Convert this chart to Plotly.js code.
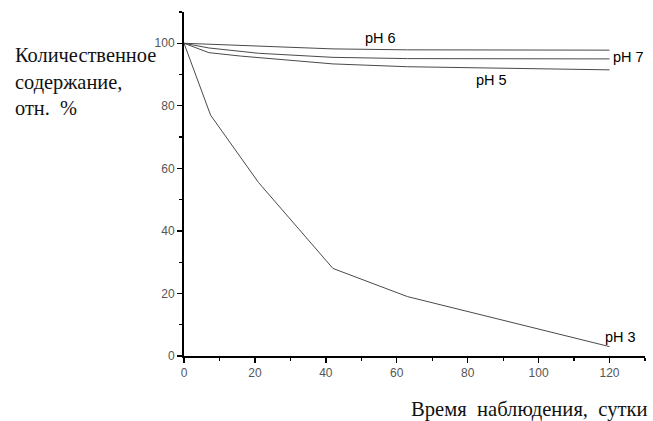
<!DOCTYPE html>
<html>
<head>
<meta charset="utf-8">
<script src="https://cdn.plot.ly/plotly-3.0.1.min.js"></script>
<style>html,body{margin:0;padding:0;background:#fff;}#chart{width:653px;height:421px;}</style>
</head>
<body>
<div id="chart"></div>
<script>
// Data (days, relative content %)
const daysPH3 = [0, 7.5, 21, 42, 63, 120];
const valsPH3 = [100, 77, 55.5, 28, 19, 3];
const daysPH5 = [0, 7, 16, 42, 63, 120];
const valsPH5 = [100, 97, 95.9, 93.4, 92.5, 91.5];
const daysPH7 = [0, 7, 21, 42, 63, 120];
const valsPH7 = [100, 98.5, 96.8, 95.5, 95.1, 95.0];
const daysPH6 = [0, 21, 42, 63, 120];
const valsPH6 = [100, 99, 98.2, 97.9, 97.8];
const seriesNames = ['pH 3', 'pH 5', 'pH 7', 'pH 6'];
const labelText = ['pH 3', 'pH 5', 'pH 7', 'pH 6'];
const labelX = [123, 86.8, 120.3, 55.5];
const labelY = [6.0, 88.4, 95.7, 101.8];
const xTicks = [0, 20, 40, 60, 80, 100, 120];
const yTicks = [0, 20, 40, 60, 80, 100];
const yTitle = 'Количественное<br>содержание,<br>отн.  %';
const xTitle = 'Время  наблюдения,  сутки';

const SERIF = "Liberation Serif, Times New Roman, serif";
const SANS = "Liberation Sans, Arial, sans-serif";

const lineStyle = {color: '#4a4a4a', width: 1};
const traces = [
  {x: daysPH3, y: valsPH3, name: seriesNames[0]},
  {x: daysPH5, y: valsPH5, name: seriesNames[1]},
  {x: daysPH7, y: valsPH7, name: seriesNames[2]},
  {x: daysPH6, y: valsPH6, name: seriesNames[3]}
].map(t => Object.assign(t, {type: 'scatter', mode: 'lines', line: lineStyle, hoverinfo: 'skip'}));

const labelAnns = labelText.map((t, i) => ({
  text: t, x: labelX[i], y: labelY[i], xref: 'x', yref: 'y',
  showarrow: false, xanchor: i === 2 ? 'left' : 'center', yanchor: 'middle',
  font: {family: SANS, size: 14.5, color: '#000'}
}));

const layout = {
  width: 653, height: 421,
  margin: {l: 184, r: 8, t: 12, b: 64.5},
  paper_bgcolor: '#fff', plot_bgcolor: '#fff',
  showlegend: false,
  font: {family: SERIF},
  xaxis: {
    range: [0, 130], tickvals: xTicks, ticktext: xTicks.map(String),
    showgrid: false, zeroline: false, showline: true, linecolor: '#000', linewidth: 2,
    ticks: 'outside', ticklen: 5, tickwidth: 1.3, tickcolor: '#000',
    minor: {dtick: 10, tick0: 0, ticks: 'outside', ticklen: 3, tickwidth: 1.3, tickcolor: '#000', showgrid: false},
    tickfont: {family: SANS, size: 12, color: '#555'}
  },
  yaxis: {
    range: [0, 110], tickvals: yTicks, ticktext: yTicks.map(String),
    showgrid: false, zeroline: false, showline: true, linecolor: '#000', linewidth: 2,
    ticks: 'outside', ticklen: 5, tickwidth: 1.3, tickcolor: '#000',
    minor: {dtick: 10, tick0: 0, ticks: 'outside', ticklen: 3, tickwidth: 1.3, tickcolor: '#000', showgrid: false},
    tickfont: {family: SANS, size: 12, color: '#555'}
  },
  annotations: labelAnns.concat([
    {text: yTitle, xref: 'paper', yref: 'paper', x: -0.371, y: 0.797,
     xanchor: 'left', yanchor: 'middle', align: 'left', showarrow: false,
     font: {family: SERIF, size: 20.4, color: '#111'}},
    {text: xTitle, xref: 'paper', yref: 'paper', x: 1.0108, y: -0.155,
     xanchor: 'right', yanchor: 'middle', showarrow: false,
     font: {family: SERIF, size: 20.6, color: '#111'}}
  ])
};

Plotly.newPlot('chart', traces, layout, {staticPlot: true, displayModeBar: false});
</script>
</body>
</html>
